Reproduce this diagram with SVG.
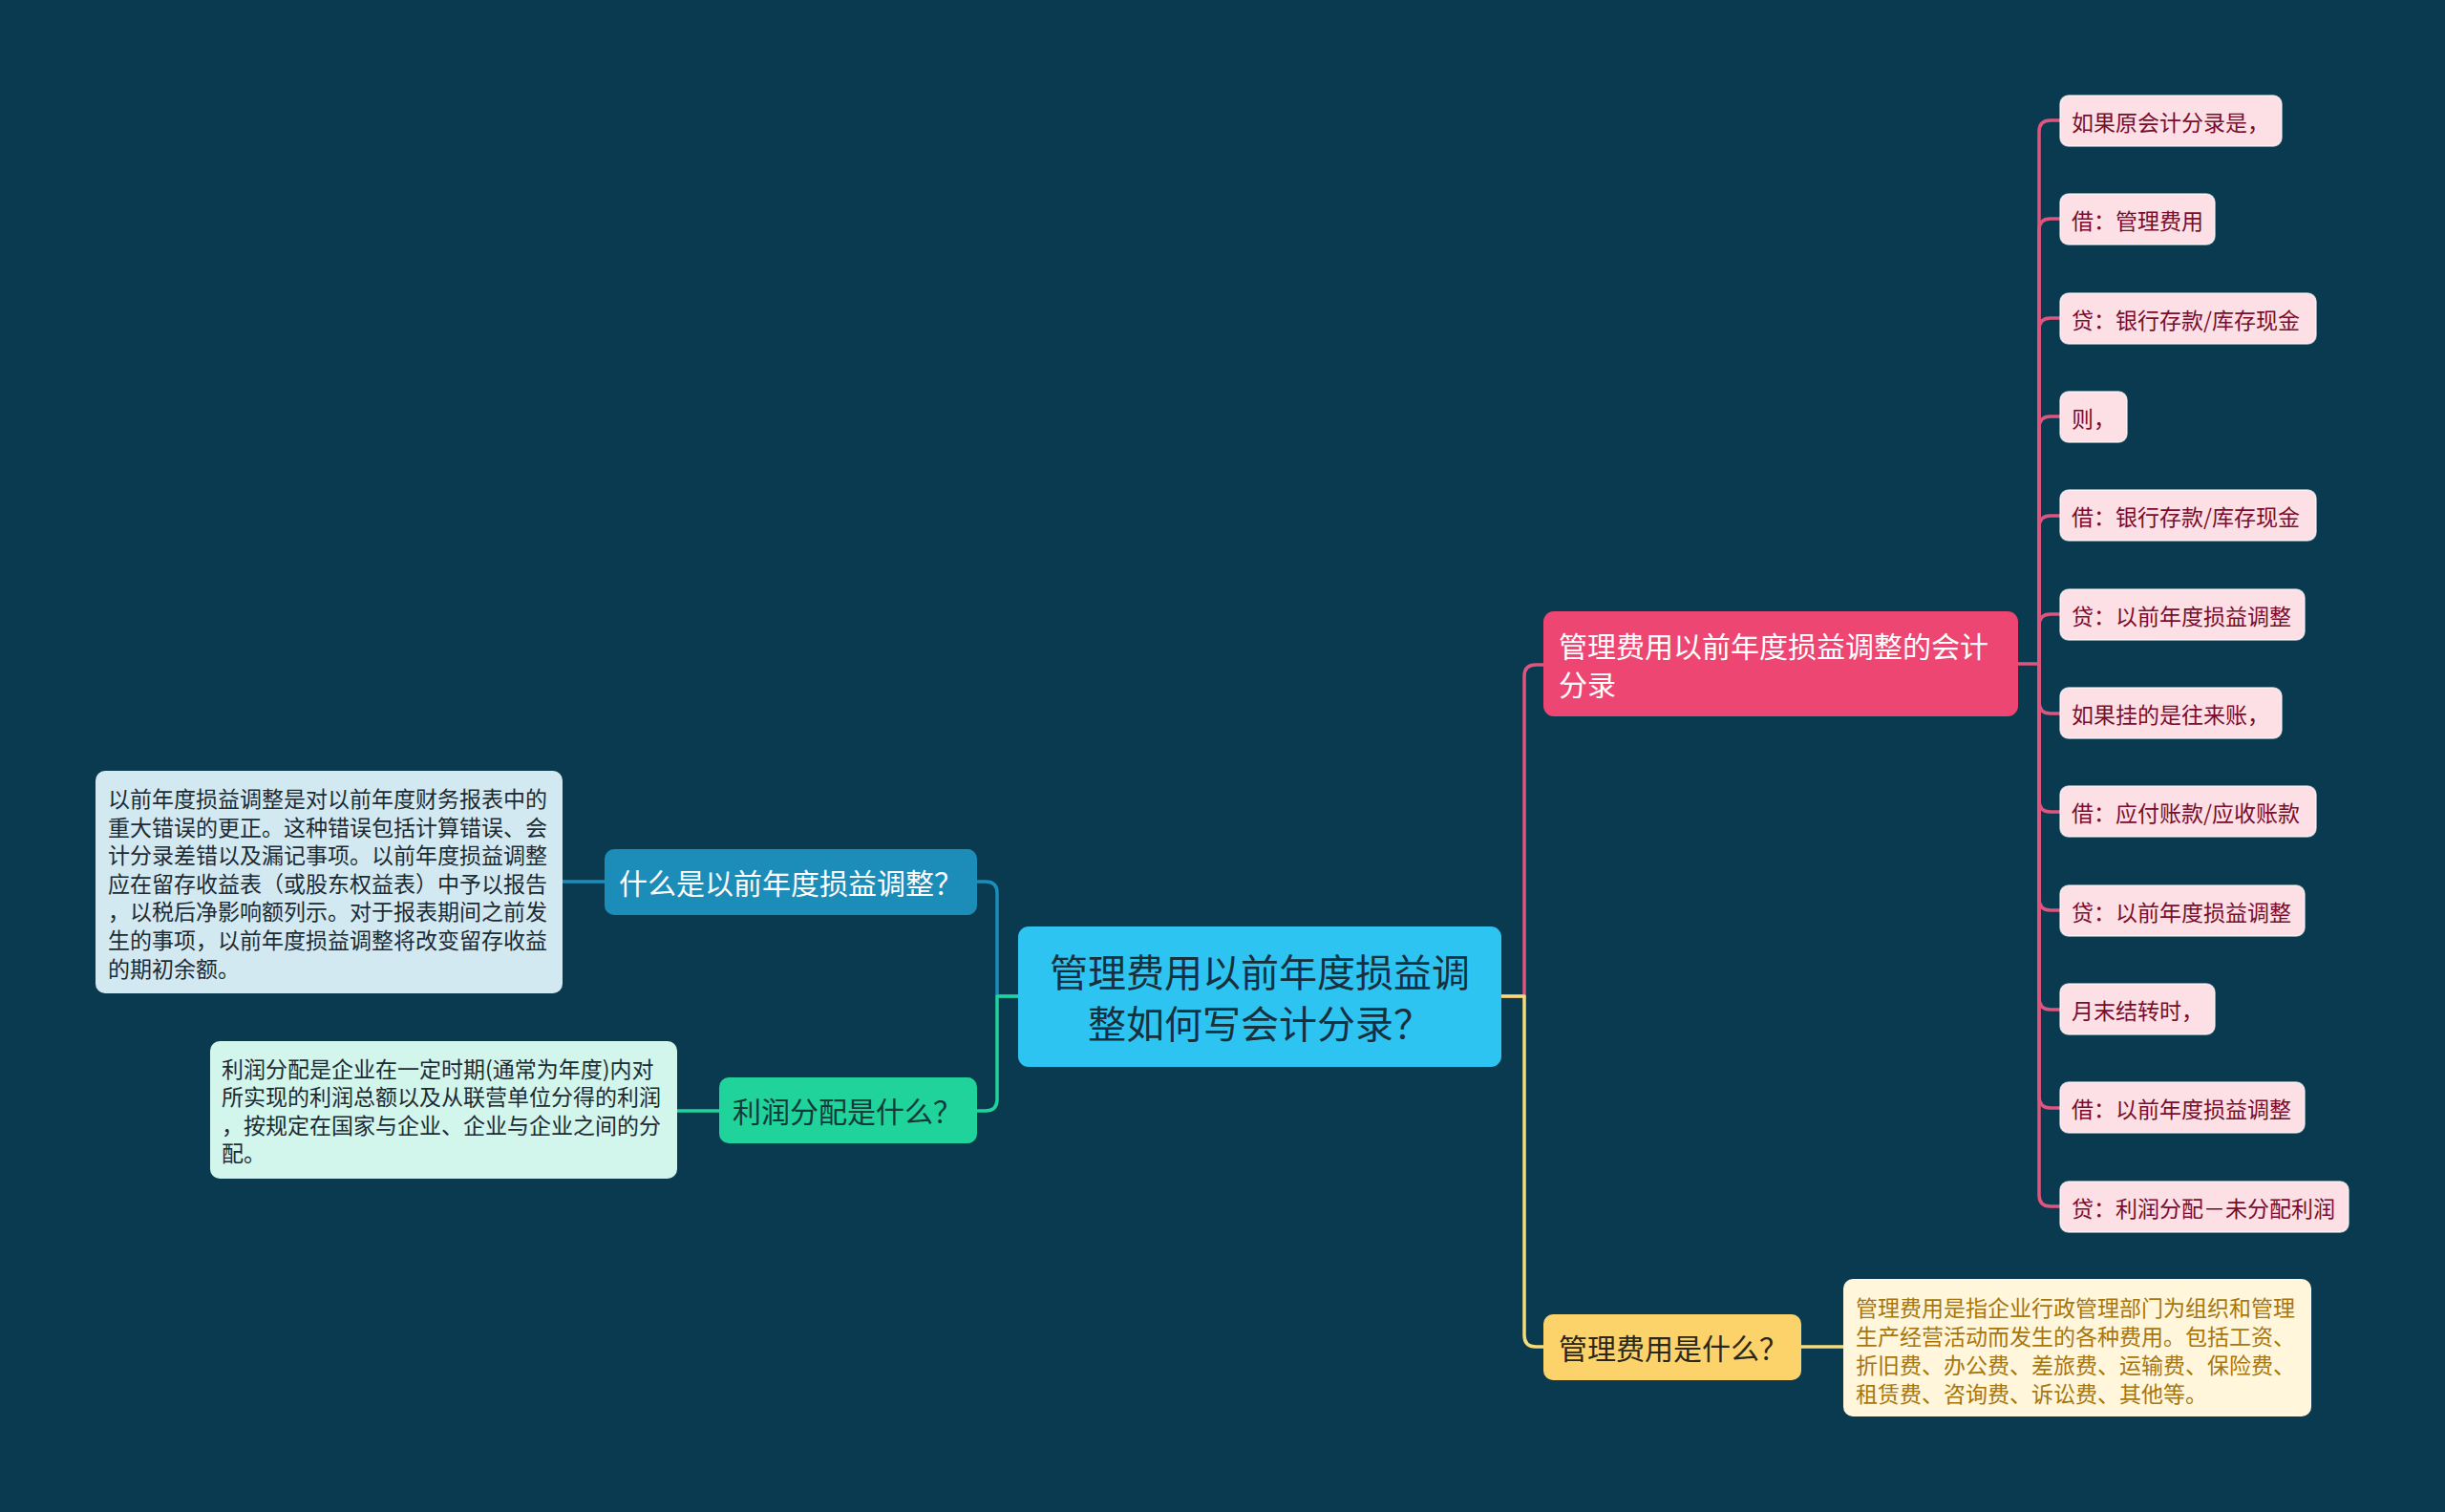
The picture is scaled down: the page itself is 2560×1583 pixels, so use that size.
<svg xmlns="http://www.w3.org/2000/svg" width="2560" height="1583" viewBox="0 0 2560 1583">
<style>
text{font-family:"Noto Sans CJK SC","Noto Sans",sans-serif;dominant-baseline:central}
.c{fill:none;stroke-width:3.5;stroke-linecap:round;stroke-linejoin:round}
.leaf rect{fill:#fde0e6;stroke:#ffffff;stroke-opacity:.7;stroke-width:1.5}
.leaf text{fill:#7a0c2c;font-size:23px}
.d{font-size:23px}
</style>
<rect x="0" y="0" width="2560" height="1583" fill="#0a3a4f"/>
<g id="connectors">
<path class="c" stroke="#1b8db8" d="M589,923 H633"/>
<path class="c" stroke="#1b8db8" d="M1023,923 H1032 Q1044,923 1044,935 V1043 H1066"/>
<path class="c" stroke="#20d39a" d="M709,1163 H753"/>
<path class="c" stroke="#20d39a" d="M1023,1163 H1032 Q1044,1163 1044,1151 V1043 H1066"/>
<path class="c" stroke="#e0557d" d="M1572,1043 H1596 V708 Q1596,696 1608,696 H1616"/>
<path class="c" stroke="#f6db7a" d="M1572,1043 H1596 V1398 Q1596,1410 1608,1410 H1616"/>
<path class="c" stroke="#f6db7a" d="M1886,1410 H1930"/>
<g stroke="#e0557d">
<path class="c" d="M2113,695 H2135 V138 Q2135,126 2147,126 H2157"/>
<path class="c" d="M2135,695 V241 Q2135,229 2147,229 H2157"/>
<path class="c" d="M2135,695 V345 Q2135,333 2147,333 H2157"/>
<path class="c" d="M2135,695 V448 Q2135,436 2147,436 H2157"/>
<path class="c" d="M2135,695 V552 Q2135,540 2147,540 H2157"/>
<path class="c" d="M2135,695 V655 Q2135,643 2147,643 H2157"/>
<path class="c" d="M2135,695 V735 Q2135,747 2147,747 H2157"/>
<path class="c" d="M2135,695 V838 Q2135,850 2147,850 H2157"/>
<path class="c" d="M2135,695 V941 Q2135,953 2147,953 H2157"/>
<path class="c" d="M2135,695 V1045 Q2135,1057 2147,1057 H2157"/>
<path class="c" d="M2135,695 V1148 Q2135,1160 2147,1160 H2157"/>
<path class="c" d="M2135,695 V1251 Q2135,1263 2147,1263 H2157"/>
</g>
</g>
<g id="central">
<rect x="1066" y="970" width="506" height="147" rx="11" fill="#2ec4f1"/>
<text x="1319" y="1016" font-size="40" fill="#17303d" text-anchor="middle">管理费用以前年度损益调</text>
<text x="1319" y="1070" font-size="40" fill="#17303d" text-anchor="middle">整如何写会计分录？</text>
</g>
<g id="main-pink">
<rect x="1616" y="640" width="497" height="110" rx="11" fill="#ee4672"/>
<text x="1632" y="675" font-size="30" fill="#ffffff">管理费用以前年度损益调整的会计</text>
<text x="1632" y="715" font-size="30" fill="#ffffff">分录</text>
</g>
<g id="leaf1" class="leaf"><rect x="2157" y="100" width="232" height="53" rx="9"/><text x="2169" y="126.5">如果原会计分录是，</text></g>
<g id="leaf2" class="leaf"><rect x="2157" y="203" width="162" height="53" rx="9"/><text x="2169" y="229.5">借：管理费用</text></g>
<g id="leaf3" class="leaf"><rect x="2157" y="307" width="268" height="53" rx="9"/><text x="2169" y="333.5">贷：银行存款/库存现金</text></g>
<g id="leaf4" class="leaf"><rect x="2157" y="410" width="70" height="53" rx="9"/><text x="2169" y="436.5">则，</text></g>
<g id="leaf5" class="leaf"><rect x="2157" y="513" width="268" height="53" rx="9"/><text x="2169" y="539.5">借：银行存款/库存现金</text></g>
<g id="leaf6" class="leaf"><rect x="2157" y="617" width="256" height="53" rx="9"/><text x="2169" y="643.5">贷：以前年度损益调整</text></g>
<g id="leaf7" class="leaf"><rect x="2157" y="720" width="232" height="53" rx="9"/><text x="2169" y="746.5">如果挂的是往来账，</text></g>
<g id="leaf8" class="leaf"><rect x="2157" y="823" width="268" height="53" rx="9"/><text x="2169" y="849.5">借：应付账款/应收账款</text></g>
<g id="leaf9" class="leaf"><rect x="2157" y="927" width="256" height="53" rx="9"/><text x="2169" y="953.5">贷：以前年度损益调整</text></g>
<g id="leaf10" class="leaf"><rect x="2157" y="1030" width="162" height="53" rx="9"/><text x="2169" y="1056.5">月末结转时，</text></g>
<g id="leaf11" class="leaf"><rect x="2157" y="1133" width="256" height="53" rx="9"/><text x="2169" y="1159.5">借：以前年度损益调整</text></g>
<g id="leaf12" class="leaf"><rect x="2157" y="1237" width="302" height="53" rx="9"/><text x="2169" y="1263.5">贷：利润分配－未分配利润</text></g>
<g id="yellow-node">
<rect x="1616" y="1376" width="270" height="69" rx="10" fill="#fcd36b"/>
<text x="1632" y="1410" font-size="30" fill="#2b2616">管理费用是什么？</text>
</g>
<g id="yellow-desc">
<rect x="1930" y="1339" width="490" height="144" rx="10" fill="#fff6dc"/>
<g class="d" fill="#a8760c">
<text x="1943" y="1368">管理费用是指企业行政管理部门为组织和管理</text>
<text x="1943" y="1398">生产经营活动而发生的各种费用。包括工资、</text>
<text x="1943" y="1428">折旧费、办公费、差旅费、运输费、保险费、</text>
<text x="1943" y="1458">租赁费、咨询费、诉讼费、其他等。</text>
</g>
</g>
<g id="blue-node">
<rect x="633" y="889" width="390" height="69" rx="10" fill="#1b8db8"/>
<text x="648" y="923" font-size="30" fill="#ffffff">什么是以前年度损益调整？</text>
</g>
<g id="blue-desc">
<rect x="100" y="807" width="489" height="233" rx="10" fill="#d3e9f1"/>
<g class="d" fill="#1c2b33">
<text x="113" y="835">以前年度损益调整是对以前年度财务报表中的</text>
<text x="113" y="865">重大错误的更正。这种错误包括计算错误、会</text>
<text x="113" y="894">计分录差错以及漏记事项。以前年度损益调整</text>
<text x="113" y="924">应在留存收益表（或股东权益表）中予以报告</text>
<text x="113" y="953">，以税后净影响额列示。对于报表期间之前发</text>
<text x="113" y="983">生的事项，以前年度损益调整将改变留存收益</text>
<text x="113" y="1013">的期初余额。</text>
</g>
</g>
<g id="green-node">
<rect x="753" y="1128" width="270" height="69" rx="10" fill="#20d39a"/>
<text x="767" y="1162" font-size="30" fill="#113a3a">利润分配是什么？</text>
</g>
<g id="green-desc">
<rect x="220" y="1090" width="489" height="144" rx="10" fill="#d2f5ec"/>
<g class="d" fill="#1c2b33">
<text x="232" y="1118">利润分配是企业在一定时期(通常为年度)内对</text>
<text x="232" y="1147">所实现的利润总额以及从联营单位分得的利润</text>
<text x="232" y="1177">，按规定在国家与企业、企业与企业之间的分</text>
<text x="232" y="1206">配。</text>
</g>
</g>
</svg>
